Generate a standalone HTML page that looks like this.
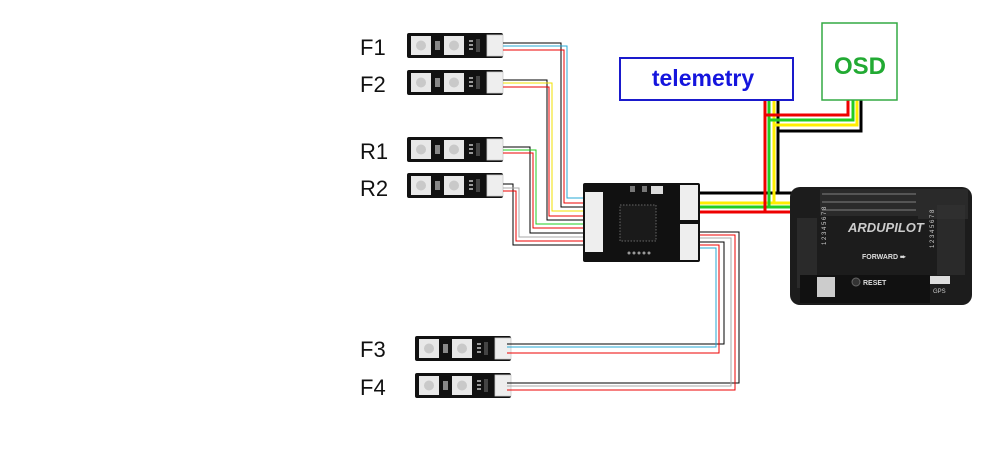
<!DOCTYPE html>
<html><head><meta charset="utf-8"><style>
html,body{margin:0;padding:0;background:#fff;}
svg{display:block;}
text{font-family:"Liberation Sans",sans-serif;}
</style></head><body>
<svg width="1000" height="451" viewBox="0 0 1000 451" xmlns="http://www.w3.org/2000/svg">
<defs>
<g id="led">
  <rect x="0" y="0" width="96" height="25" rx="2" fill="#111"/>
  <rect x="4" y="3" width="20" height="19" fill="#e8e8e8"/>
  <circle cx="14" cy="12.5" r="5" fill="#c9c9c9"/>
  <rect x="28" y="8" width="5" height="9" fill="#888"/>
  <rect x="37" y="3" width="20" height="19" fill="#e8e8e8"/>
  <circle cx="47" cy="12.5" r="5" fill="#c9c9c9"/>
  <rect x="62" y="7" width="4" height="2" fill="#999"/>
  <rect x="62" y="11" width="4" height="2" fill="#999"/>
  <rect x="62" y="15" width="4" height="2" fill="#999"/>
  <rect x="69" y="6" width="4" height="13" fill="#444"/>
  <rect x="80" y="2" width="16" height="21" fill="#eee" stroke="#ccc" stroke-width="0.8"/>
</g>
</defs>

<g font-size="22" fill="#111">
<text x="360" y="55">F1</text>
<text x="360" y="92">F2</text>
<text x="360" y="159">R1</text>
<text x="360" y="196">R2</text>
<text x="360" y="357">F3</text>
<text x="360" y="395">F4</text>
</g>

<use href="#led" x="407" y="33"/>
<use href="#led" x="407" y="70"/>
<use href="#led" x="407" y="137"/>
<use href="#led" x="407" y="173"/>
<use href="#led" x="415" y="336"/>
<use href="#led" x="415" y="373"/>

<g fill="none" stroke-width="1.1" shape-rendering="crispEdges">
<polyline points="503,43 561,43 561,207 583,207" stroke="#000"/>
<polyline points="503,46 567,46 567,198 583,198" stroke="#27a9d6"/>
<polyline points="503,50 564,50 564,203 583,203" stroke="#e00"/>
<polyline points="503,80 547,80 547,220 583,220" stroke="#000"/>
<polyline points="503,83 552,83 552,211 583,211" stroke="#f0e000"/>
<polyline points="503,87 549,87 549,216 583,216" stroke="#e00"/>
<polyline points="503,147 530,147 530,233 583,233" stroke="#000"/>
<polyline points="503,150 536,150 536,224 583,224" stroke="#22cc22"/>
<polyline points="503,153 533,153 533,228 583,228" stroke="#e00"/>
<polyline points="503,184 513,184 513,245 583,245" stroke="#000"/>
<polyline points="503,188 519,188 519,237 583,237" stroke="#aaa"/>
<polyline points="503,191 516,191 516,241 583,241" stroke="#e00"/>
<polyline points="700,232 739,232 739,383 507,383" stroke="#000"/>
<polyline points="700,235 735,235 735,390 507,390" stroke="#e00"/>
<polyline points="700,238 731,238 731,386 507,386" stroke="#aaa"/>
<polyline points="700,242 724,242 724,344 507,344" stroke="#000"/>
<polyline points="700,245 719,245 719,353 507,353" stroke="#e00"/>
<polyline points="700,248 716,248 716,347 507,347" stroke="#27a9d6"/>
</g>

<g fill="none" stroke-width="3">
<polyline points="700,193 818,193 818,205" stroke="#000"/>
<polyline points="700,203 818,203" stroke="#ffee00"/>
<polyline points="700,207 818,207" stroke="#22cc22"/>
<polyline points="700,212 818,212" stroke="#e00"/>
<polyline points="765,100 765,212" stroke="#e00"/>
<polyline points="769,100 769,208" stroke="#22cc22"/>
<polyline points="774,100 774,204" stroke="#ffee00"/>
<polyline points="778,100 778,193" stroke="#000"/>
<polyline points="765,115 848,115 848,100" stroke="#e00"/>
<polyline points="769,120 853,120 853,100" stroke="#22cc22"/>
<polyline points="774,125 857,125 857,100" stroke="#ffee00"/>
<polyline points="778,131 861,131 861,100" stroke="#000"/>
</g>

<rect x="620" y="58" width="173" height="42" fill="#fff" stroke="#1a1acc" stroke-width="2"/>
<text x="703" y="86" font-size="23" font-weight="bold" fill="#1515dd" text-anchor="middle">telemetry</text>
<rect x="822" y="23" width="75" height="77" fill="#fff" stroke="#33aa44" stroke-width="1.5"/>
<text x="860" y="74" font-size="24" font-weight="bold" fill="#22aa33" text-anchor="middle">OSD</text>

<rect x="583" y="183" width="117" height="79" rx="2" fill="#111"/>
<rect x="585" y="192" width="18" height="60" fill="#eee"/>
<rect x="680" y="185" width="18" height="35" fill="#eee"/>
<rect x="680" y="224" width="18" height="36" fill="#eee"/>
<rect x="620" y="205" width="36" height="36" fill="#1a1a1a" stroke="#666" stroke-dasharray="1.5,1.5"/>
<rect x="651" y="186" width="12" height="8" fill="#ddd"/>
<rect x="630" y="186" width="5" height="6" fill="#777"/>
<rect x="642" y="186" width="5" height="6" fill="#777"/>
<g fill="#999"><circle cx="629" cy="253" r="1.5"/><circle cx="634" cy="253" r="1.5"/><circle cx="639" cy="253" r="1.5"/><circle cx="644" cy="253" r="1.5"/><circle cx="649" cy="253" r="1.5"/></g>

<rect x="790" y="187" width="182" height="118" rx="10" fill="#1c1c1c"/>
<rect x="820" y="189" width="98" height="27" fill="#2a2a2a"/>
<g fill="#555">
<rect x="822" y="193" width="94" height="2"/><rect x="822" y="201" width="94" height="2"/><rect x="822" y="209" width="94" height="2"/>
</g>
<rect x="797" y="218" width="20" height="70" fill="#2a2a2a"/>
<rect x="937" y="205" width="28" height="70" fill="#2a2a2a"/>
<rect x="918" y="189" width="50" height="30" fill="#333" opacity="0.6"/>
<rect x="800" y="275" width="130" height="28" fill="#111"/>
<text x="848" y="232" font-size="13" font-weight="bold" font-style="italic" fill="#ccc">ARDUPILOT</text>
<text x="862" y="259" font-size="7" font-weight="bold" fill="#ddd">FORWARD ➨</text>
<circle cx="856" cy="282" r="4" fill="#333" stroke="#666"/>
<text x="863" y="285" font-size="7" font-weight="bold" fill="#ddd">RESET</text>
<rect x="930" y="276" width="20" height="8" fill="#ddd"/>
<text x="933" y="293" font-size="6" fill="#ccc">GPS</text>
<rect x="817" y="277" width="18" height="20" fill="#ccc"/>
<text x="826" y="245" font-size="6" fill="#ccc" transform="rotate(-90 826 245)">1 2 3 4 5 6 7 8</text>
<text x="934" y="248" font-size="6" fill="#ccc" transform="rotate(-90 934 248)">1 2 3 4 5 6 7 8</text>
</svg>
</body></html>
